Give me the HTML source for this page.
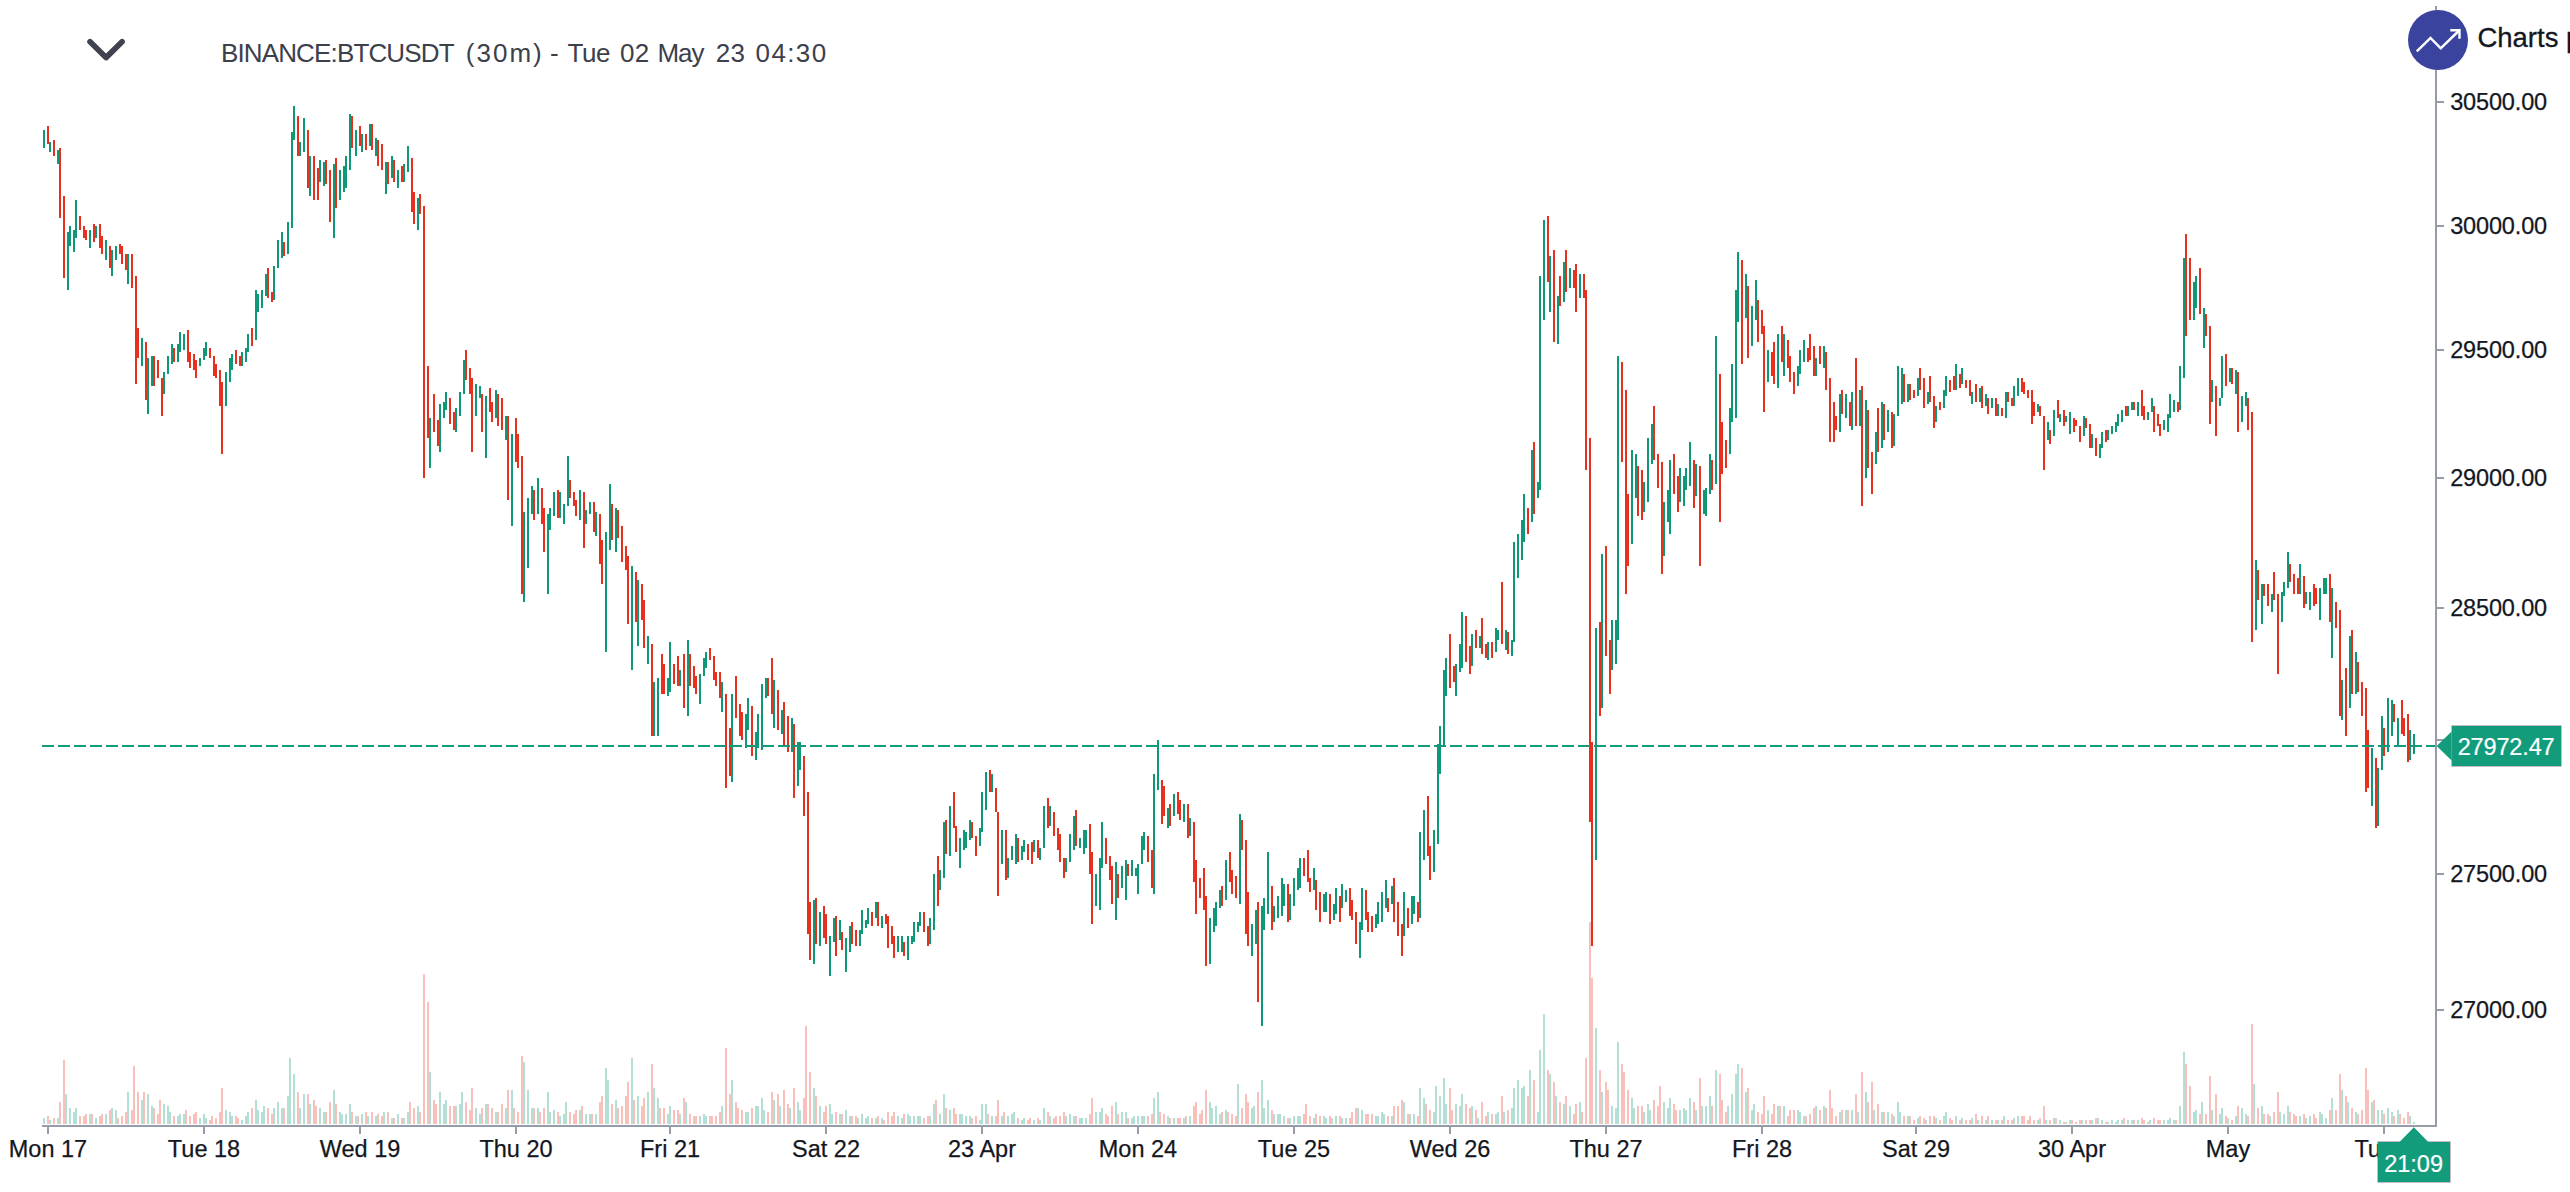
<!DOCTYPE html>
<html><head><meta charset="utf-8"><title>chart</title>
<style>
html,body{margin:0;padding:0;background:#fff;overflow:hidden;}
body{width:2570px;height:1192px;position:relative;overflow:hidden;font-family:"Liberation Sans",sans-serif;}
#chart{position:absolute;left:0;top:0;}
.tw{position:absolute;top:37.8px;font-size:26px;color:#3c404b;white-space:nowrap;}
.pl{position:absolute;left:2450.2px;font-size:23.5px;letter-spacing:-0.15px;color:#131722;white-space:nowrap;-webkit-text-stroke:0.25px #131722;}
.pt{position:absolute;left:2436px;width:8px;height:2px;background:#969da8;}
.tt{position:absolute;top:1126px;width:2px;height:8px;background:#969da8;}
.tl{position:absolute;top:1135.6px;width:200px;text-align:center;font-size:23.5px;color:#131722;white-space:nowrap;-webkit-text-stroke:0.25px #131722;}
.yaxis{position:absolute;left:2435px;top:6px;width:2px;height:1120px;background:#969da8;}
.xaxis{position:absolute;left:42px;top:1125px;width:2395px;height:2px;background:#969da8;}
.logo{position:absolute;left:2408px;top:10px;width:60px;height:60px;border-radius:50%;background:#3a439e;}
.brand{position:absolute;left:2477.4px;top:22.1px;font-size:27.5px;color:#131722;white-space:nowrap;-webkit-text-stroke:0.3px #131722;}
.plab{position:absolute;left:2451.5px;top:725.7px;width:109.9px;height:40.5px;background:#139c7c;box-shadow:0 0 0 0.6px rgba(120,108,125,0.75);}
.plabt{position:absolute;left:2457.7px;top:733.6px;color:#fff;font-size:23.5px;letter-spacing:-0.15px;white-space:nowrap;-webkit-text-stroke:0.2px #fff;}
.tlab{position:absolute;left:2377.5px;top:1141.8px;width:72.9px;height:40.5px;background:#139c7c;box-shadow:0 0 0 0.6px rgba(120,108,125,0.75);}
.tlabt{position:absolute;left:2384.2px;top:1150.7px;color:#fff;font-size:23.5px;white-space:nowrap;-webkit-text-stroke:0.2px #fff;}
</style></head><body>
<svg id="chart" width="2570" height="1192" viewBox="0 0 2570 1192" shape-rendering="crispEdges">
<path d="M43 1118h2v6h-2zM49 1120h2v4h-2zM57 1118h2v6h-2zM65 1094h2v30h-2zM69 1108h2v16h-2zM73 1112h2v12h-2zM75 1108h2v16h-2zM89 1114h2v10h-2zM95 1118h2v6h-2zM105 1114h2v10h-2zM111 1108h2v16h-2zM115 1110h2v14h-2zM127 1092h2v32h-2zM141 1100h2v24h-2zM147 1094h2v30h-2zM151 1106h2v18h-2zM163 1104h2v20h-2zM167 1106h2v18h-2zM169 1112h2v12h-2zM177 1116h2v8h-2zM179 1114h2v10h-2zM183 1114h2v10h-2zM199 1118h2v6h-2zM203 1114h2v10h-2zM205 1118h2v6h-2zM225 1110h2v14h-2zM229 1112h2v12h-2zM231 1116h2v8h-2zM241 1120h2v4h-2zM245 1116h2v8h-2zM247 1112h2v12h-2zM255 1100h2v24h-2zM257 1110h2v14h-2zM261 1112h2v12h-2zM263 1106h2v18h-2zM273 1108h2v16h-2zM277 1102h2v22h-2zM281 1108h2v16h-2zM287 1096h2v28h-2zM289 1058h2v66h-2zM293 1074h2v50h-2zM299 1108h2v16h-2zM303 1094h2v30h-2zM309 1104h2v20h-2zM319 1108h2v16h-2zM323 1112h2v12h-2zM333 1090h2v34h-2zM339 1112h2v12h-2zM341 1114h2v10h-2zM345 1114h2v10h-2zM349 1104h2v20h-2zM355 1116h2v8h-2zM361 1114h2v10h-2zM367 1116h2v8h-2zM375 1116h2v8h-2zM383 1112h2v12h-2zM391 1118h2v6h-2zM397 1114h2v10h-2zM403 1118h2v6h-2zM407 1112h2v12h-2zM417 1106h2v18h-2zM429 1072h2v52h-2zM439 1092h2v32h-2zM443 1104h2v20h-2zM445 1100h2v24h-2zM455 1106h2v18h-2zM459 1104h2v20h-2zM461 1092h2v32h-2zM475 1108h2v16h-2zM479 1114h2v10h-2zM485 1104h2v20h-2zM495 1112h2v12h-2zM505 1108h2v16h-2zM511 1090h2v34h-2zM523 1062h2v62h-2zM527 1090h2v34h-2zM531 1108h2v16h-2zM537 1108h2v16h-2zM547 1092h2v32h-2zM549 1112h2v12h-2zM553 1110h2v14h-2zM559 1116h2v8h-2zM563 1114h2v10h-2zM565 1102h2v22h-2zM579 1110h2v14h-2zM585 1114h2v10h-2zM589 1114h2v10h-2zM595 1114h2v10h-2zM605 1068h2v56h-2zM607 1080h2v44h-2zM615 1100h2v24h-2zM631 1058h2v66h-2zM637 1096h2v28h-2zM647 1092h2v32h-2zM653 1088h2v36h-2zM657 1098h2v26h-2zM667 1114h2v10h-2zM669 1106h2v18h-2zM679 1114h2v10h-2zM685 1102h2v22h-2zM699 1116h2v8h-2zM703 1114h2v10h-2zM705 1116h2v8h-2zM721 1106h2v18h-2zM731 1080h2v44h-2zM745 1112h2v12h-2zM747 1112h2v12h-2zM755 1106h2v18h-2zM757 1106h2v18h-2zM761 1098h2v26h-2zM763 1110h2v14h-2zM773 1100h2v24h-2zM779 1106h2v18h-2zM789 1108h2v16h-2zM797 1102h2v22h-2zM799 1110h2v14h-2zM813 1088h2v36h-2zM819 1106h2v18h-2zM829 1104h2v20h-2zM831 1114h2v10h-2zM839 1114h2v10h-2zM845 1110h2v14h-2zM849 1116h2v8h-2zM857 1118h2v6h-2zM861 1114h2v10h-2zM865 1118h2v6h-2zM867 1116h2v8h-2zM875 1118h2v6h-2zM881 1118h2v6h-2zM897 1116h2v8h-2zM901 1118h2v6h-2zM907 1114h2v10h-2zM909 1116h2v8h-2zM913 1116h2v8h-2zM917 1116h2v8h-2zM919 1116h2v8h-2zM929 1116h2v8h-2zM933 1104h2v20h-2zM939 1114h2v10h-2zM943 1094h2v30h-2zM949 1110h2v14h-2zM959 1114h2v10h-2zM961 1114h2v10h-2zM965 1116h2v8h-2zM969 1116h2v8h-2zM979 1120h2v4h-2zM981 1104h2v20h-2zM985 1104h2v20h-2zM991 1116h2v8h-2zM1001 1116h2v8h-2zM1007 1116h2v8h-2zM1011 1114h2v10h-2zM1013 1112h2v12h-2zM1021 1120h2v4h-2zM1023 1118h2v6h-2zM1033 1120h2v4h-2zM1039 1120h2v4h-2zM1043 1108h2v16h-2zM1049 1116h2v8h-2zM1065 1116h2v8h-2zM1069 1114h2v10h-2zM1073 1116h2v8h-2zM1079 1118h2v6h-2zM1081 1118h2v6h-2zM1085 1118h2v6h-2zM1095 1112h2v12h-2zM1099 1112h2v12h-2zM1101 1108h2v16h-2zM1115 1102h2v22h-2zM1121 1112h2v12h-2zM1125 1112h2v12h-2zM1131 1118h2v6h-2zM1133 1116h2v8h-2zM1137 1116h2v8h-2zM1141 1116h2v8h-2zM1143 1116h2v8h-2zM1153 1098h2v26h-2zM1157 1092h2v32h-2zM1167 1116h2v8h-2zM1173 1118h2v6h-2zM1183 1118h2v6h-2zM1189 1116h2v8h-2zM1209 1102h2v22h-2zM1211 1108h2v16h-2zM1215 1106h2v18h-2zM1219 1114h2v10h-2zM1225 1110h2v14h-2zM1237 1084h2v40h-2zM1251 1108h2v16h-2zM1253 1106h2v18h-2zM1261 1080h2v44h-2zM1263 1108h2v16h-2zM1267 1100h2v24h-2zM1273 1114h2v10h-2zM1277 1114h2v10h-2zM1279 1114h2v10h-2zM1283 1116h2v8h-2zM1289 1118h2v6h-2zM1293 1116h2v8h-2zM1297 1116h2v8h-2zM1299 1116h2v8h-2zM1313 1118h2v6h-2zM1323 1116h2v8h-2zM1325 1118h2v6h-2zM1331 1118h2v6h-2zM1335 1116h2v8h-2zM1341 1118h2v6h-2zM1345 1118h2v6h-2zM1357 1108h2v16h-2zM1361 1110h2v14h-2zM1375 1116h2v8h-2zM1377 1116h2v8h-2zM1381 1112h2v12h-2zM1383 1114h2v10h-2zM1391 1116h2v8h-2zM1403 1102h2v22h-2zM1409 1114h2v10h-2zM1413 1114h2v10h-2zM1419 1088h2v36h-2zM1423 1098h2v26h-2zM1433 1112h2v12h-2zM1435 1086h2v38h-2zM1439 1096h2v28h-2zM1443 1078h2v46h-2zM1445 1104h2v20h-2zM1455 1104h2v20h-2zM1459 1106h2v18h-2zM1461 1094h2v30h-2zM1471 1106h2v18h-2zM1477 1118h2v6h-2zM1487 1112h2v12h-2zM1495 1114h2v10h-2zM1497 1112h2v12h-2zM1503 1112h2v12h-2zM1511 1108h2v16h-2zM1513 1088h2v36h-2zM1517 1080h2v44h-2zM1521 1088h2v36h-2zM1523 1086h2v38h-2zM1529 1070h2v54h-2zM1537 1112h2v12h-2zM1539 1050h2v74h-2zM1543 1014h2v110h-2zM1549 1074h2v50h-2zM1555 1096h2v28h-2zM1563 1104h2v20h-2zM1569 1106h2v18h-2zM1579 1102h2v22h-2zM1595 1028h2v96h-2zM1601 1092h2v32h-2zM1611 1106h2v18h-2zM1615 1108h2v16h-2zM1617 1042h2v82h-2zM1631 1098h2v26h-2zM1633 1108h2v16h-2zM1643 1112h2v12h-2zM1647 1104h2v20h-2zM1649 1110h2v14h-2zM1663 1102h2v22h-2zM1667 1108h2v16h-2zM1669 1098h2v26h-2zM1679 1110h2v14h-2zM1683 1108h2v16h-2zM1685 1110h2v14h-2zM1689 1098h2v26h-2zM1695 1110h2v14h-2zM1701 1106h2v18h-2zM1705 1106h2v18h-2zM1709 1096h2v28h-2zM1715 1070h2v54h-2zM1727 1106h2v18h-2zM1731 1094h2v30h-2zM1735 1074h2v50h-2zM1737 1064h2v60h-2zM1745 1092h2v32h-2zM1751 1110h2v14h-2zM1753 1104h2v20h-2zM1767 1110h2v14h-2zM1777 1106h2v18h-2zM1783 1106h2v18h-2zM1797 1110h2v14h-2zM1799 1112h2v12h-2zM1803 1116h2v8h-2zM1815 1106h2v18h-2zM1823 1106h2v18h-2zM1839 1112h2v12h-2zM1845 1110h2v14h-2zM1851 1110h2v14h-2zM1857 1112h2v12h-2zM1865 1092h2v32h-2zM1873 1110h2v14h-2zM1881 1112h2v12h-2zM1887 1112h2v12h-2zM1893 1116h2v8h-2zM1897 1102h2v22h-2zM1899 1112h2v12h-2zM1907 1116h2v8h-2zM1917 1118h2v6h-2zM1925 1120h2v4h-2zM1935 1118h2v6h-2zM1943 1116h2v8h-2zM1945 1112h2v12h-2zM1955 1116h2v8h-2zM1961 1118h2v6h-2zM1971 1118h2v6h-2zM1977 1120h2v4h-2zM1985 1120h2v4h-2zM1991 1120h2v4h-2zM1997 1120h2v4h-2zM2003 1116h2v8h-2zM2013 1118h2v6h-2zM2017 1116h2v8h-2zM2037 1120h2v4h-2zM2045 1120h2v4h-2zM2053 1118h2v6h-2zM2059 1120h2v4h-2zM2065 1122h2v2h-2zM2069 1120h2v4h-2zM2081 1120h2v4h-2zM2091 1120h2v4h-2zM2097 1118h2v6h-2zM2101 1120h2v4h-2zM2107 1122h2v2h-2zM2111 1120h2v4h-2zM2115 1122h2v2h-2zM2117 1120h2v4h-2zM2121 1120h2v4h-2zM2127 1120h2v4h-2zM2131 1120h2v4h-2zM2137 1120h2v4h-2zM2147 1122h2v2h-2zM2149 1120h2v4h-2zM2163 1120h2v4h-2zM2167 1120h2v4h-2zM2169 1118h2v6h-2zM2173 1120h2v4h-2zM2179 1106h2v18h-2zM2183 1052h2v72h-2zM2193 1112h2v12h-2zM2195 1110h2v14h-2zM2201 1102h2v22h-2zM2211 1110h2v14h-2zM2219 1114h2v10h-2zM2221 1108h2v16h-2zM2227 1118h2v6h-2zM2235 1116h2v8h-2zM2241 1108h2v16h-2zM2245 1114h2v10h-2zM2253 1084h2v40h-2zM2261 1106h2v18h-2zM2269 1116h2v8h-2zM2279 1112h2v12h-2zM2283 1114h2v10h-2zM2287 1106h2v18h-2zM2299 1116h2v8h-2zM2305 1118h2v6h-2zM2309 1116h2v8h-2zM2319 1112h2v12h-2zM2321 1114h2v10h-2zM2325 1118h2v6h-2zM2331 1098h2v26h-2zM2341 1090h2v34h-2zM2347 1102h2v22h-2zM2355 1112h2v12h-2zM2371 1102h2v22h-2zM2377 1110h2v14h-2zM2381 1110h2v14h-2zM2387 1108h2v16h-2zM2391 1112h2v12h-2zM2397 1110h2v14h-2zM2409 1116h2v8h-2zM2413 1122h2v2h-2z" fill="#b3dfd4"/>
<path d="M47 1116h2v8h-2zM53 1118h2v6h-2zM59 1102h2v22h-2zM63 1060h2v64h-2zM79 1116h2v8h-2zM83 1116h2v8h-2zM85 1114h2v10h-2zM91 1114h2v10h-2zM99 1116h2v8h-2zM101 1114h2v10h-2zM109 1110h2v14h-2zM117 1118h2v6h-2zM121 1116h2v8h-2zM125 1112h2v12h-2zM131 1110h2v14h-2zM133 1066h2v58h-2zM137 1092h2v32h-2zM143 1092h2v32h-2zM153 1108h2v16h-2zM157 1114h2v10h-2zM159 1100h2v24h-2zM173 1116h2v8h-2zM185 1110h2v14h-2zM189 1116h2v8h-2zM193 1114h2v10h-2zM195 1112h2v12h-2zM209 1120h2v4h-2zM211 1116h2v8h-2zM215 1118h2v6h-2zM219 1112h2v12h-2zM221 1088h2v36h-2zM235 1116h2v8h-2zM237 1118h2v6h-2zM251 1108h2v16h-2zM267 1108h2v16h-2zM271 1114h2v10h-2zM283 1108h2v16h-2zM297 1092h2v32h-2zM307 1094h2v30h-2zM313 1100h2v24h-2zM315 1106h2v18h-2zM325 1112h2v12h-2zM329 1102h2v22h-2zM335 1104h2v20h-2zM351 1112h2v12h-2zM357 1116h2v8h-2zM365 1112h2v12h-2zM371 1112h2v12h-2zM377 1114h2v10h-2zM381 1116h2v8h-2zM387 1112h2v12h-2zM393 1118h2v6h-2zM401 1118h2v6h-2zM409 1102h2v22h-2zM413 1108h2v16h-2zM419 1112h2v12h-2zM423 974h2v150h-2zM427 1002h2v122h-2zM433 1100h2v24h-2zM435 1104h2v20h-2zM449 1106h2v18h-2zM453 1106h2v18h-2zM465 1102h2v22h-2zM469 1110h2v14h-2zM471 1088h2v36h-2zM481 1108h2v16h-2zM487 1104h2v20h-2zM491 1108h2v16h-2zM497 1112h2v12h-2zM501 1104h2v20h-2zM507 1090h2v34h-2zM513 1108h2v16h-2zM517 1112h2v12h-2zM521 1056h2v68h-2zM533 1108h2v16h-2zM539 1112h2v12h-2zM543 1108h2v16h-2zM557 1112h2v12h-2zM569 1112h2v12h-2zM573 1114h2v10h-2zM575 1110h2v14h-2zM581 1106h2v18h-2zM591 1114h2v10h-2zM599 1102h2v22h-2zM601 1096h2v28h-2zM611 1104h2v20h-2zM617 1108h2v16h-2zM621 1106h2v18h-2zM625 1096h2v28h-2zM627 1082h2v42h-2zM633 1100h2v24h-2zM641 1106h2v18h-2zM643 1098h2v26h-2zM651 1064h2v60h-2zM659 1108h2v16h-2zM663 1108h2v16h-2zM673 1110h2v14h-2zM677 1110h2v14h-2zM683 1098h2v26h-2zM689 1114h2v10h-2zM693 1116h2v8h-2zM695 1116h2v8h-2zM709 1116h2v8h-2zM711 1116h2v8h-2zM715 1116h2v8h-2zM719 1112h2v12h-2zM725 1048h2v76h-2zM729 1094h2v30h-2zM735 1102h2v22h-2zM737 1108h2v16h-2zM741 1110h2v14h-2zM751 1108h2v16h-2zM767 1112h2v12h-2zM771 1092h2v32h-2zM777 1094h2v30h-2zM783 1090h2v34h-2zM787 1104h2v20h-2zM793 1088h2v36h-2zM803 1098h2v26h-2zM805 1026h2v98h-2zM809 1072h2v52h-2zM815 1096h2v28h-2zM823 1112h2v12h-2zM825 1106h2v18h-2zM835 1112h2v12h-2zM841 1114h2v10h-2zM851 1116h2v8h-2zM855 1116h2v8h-2zM871 1118h2v6h-2zM877 1116h2v8h-2zM883 1120h2v4h-2zM887 1112h2v12h-2zM891 1116h2v8h-2zM893 1112h2v12h-2zM903 1114h2v10h-2zM923 1118h2v6h-2zM927 1116h2v8h-2zM935 1100h2v24h-2zM945 1108h2v16h-2zM953 1108h2v16h-2zM955 1114h2v10h-2zM971 1118h2v6h-2zM975 1116h2v8h-2zM987 1114h2v10h-2zM995 1116h2v8h-2zM997 1100h2v24h-2zM1003 1112h2v12h-2zM1017 1118h2v6h-2zM1027 1120h2v4h-2zM1029 1118h2v6h-2zM1037 1118h2v6h-2zM1047 1112h2v12h-2zM1053 1118h2v6h-2zM1055 1116h2v8h-2zM1059 1116h2v8h-2zM1063 1112h2v12h-2zM1075 1116h2v8h-2zM1089 1114h2v10h-2zM1091 1098h2v26h-2zM1105 1114h2v10h-2zM1107 1116h2v8h-2zM1111 1106h2v18h-2zM1117 1114h2v10h-2zM1127 1118h2v6h-2zM1147 1116h2v8h-2zM1151 1114h2v10h-2zM1159 1112h2v12h-2zM1163 1114h2v10h-2zM1169 1118h2v6h-2zM1177 1118h2v6h-2zM1179 1118h2v6h-2zM1185 1116h2v8h-2zM1193 1106h2v18h-2zM1195 1102h2v22h-2zM1199 1114h2v10h-2zM1201 1110h2v14h-2zM1205 1090h2v34h-2zM1221 1112h2v12h-2zM1227 1112h2v12h-2zM1231 1114h2v10h-2zM1235 1116h2v8h-2zM1241 1108h2v16h-2zM1245 1094h2v30h-2zM1247 1102h2v22h-2zM1257 1092h2v32h-2zM1271 1110h2v14h-2zM1287 1118h2v6h-2zM1303 1114h2v10h-2zM1305 1104h2v20h-2zM1309 1116h2v8h-2zM1315 1114h2v10h-2zM1319 1116h2v8h-2zM1329 1116h2v8h-2zM1339 1116h2v8h-2zM1349 1118h2v6h-2zM1351 1112h2v12h-2zM1355 1108h2v16h-2zM1365 1114h2v10h-2zM1367 1114h2v10h-2zM1371 1114h2v10h-2zM1387 1116h2v8h-2zM1393 1106h2v18h-2zM1397 1106h2v18h-2zM1401 1100h2v24h-2zM1407 1114h2v10h-2zM1417 1116h2v8h-2zM1425 1104h2v20h-2zM1429 1110h2v14h-2zM1449 1088h2v36h-2zM1451 1110h2v14h-2zM1465 1104h2v20h-2zM1469 1108h2v16h-2zM1475 1110h2v14h-2zM1481 1102h2v22h-2zM1485 1116h2v8h-2zM1491 1114h2v10h-2zM1501 1096h2v28h-2zM1507 1110h2v14h-2zM1527 1096h2v28h-2zM1533 1080h2v44h-2zM1547 1070h2v54h-2zM1553 1082h2v42h-2zM1559 1102h2v22h-2zM1565 1096h2v28h-2zM1573 1114h2v10h-2zM1575 1104h2v20h-2zM1581 1112h2v12h-2zM1585 1058h2v66h-2zM1589 922h2v202h-2zM1591 978h2v146h-2zM1599 1070h2v54h-2zM1605 1082h2v42h-2zM1607 1090h2v34h-2zM1621 1064h2v60h-2zM1623 1072h2v52h-2zM1627 1090h2v34h-2zM1637 1106h2v18h-2zM1641 1106h2v18h-2zM1653 1100h2v24h-2zM1657 1106h2v18h-2zM1659 1086h2v38h-2zM1673 1104h2v20h-2zM1675 1110h2v14h-2zM1693 1102h2v22h-2zM1699 1078h2v46h-2zM1711 1106h2v18h-2zM1719 1074h2v50h-2zM1721 1100h2v24h-2zM1725 1112h2v12h-2zM1741 1068h2v56h-2zM1747 1088h2v36h-2zM1757 1112h2v12h-2zM1761 1114h2v10h-2zM1763 1096h2v28h-2zM1771 1114h2v10h-2zM1773 1104h2v20h-2zM1779 1106h2v18h-2zM1787 1116h2v8h-2zM1789 1110h2v14h-2zM1793 1110h2v14h-2zM1805 1116h2v8h-2zM1809 1114h2v10h-2zM1813 1108h2v16h-2zM1819 1110h2v14h-2zM1825 1108h2v16h-2zM1829 1090h2v34h-2zM1831 1108h2v16h-2zM1835 1116h2v8h-2zM1841 1110h2v14h-2zM1847 1110h2v14h-2zM1855 1094h2v30h-2zM1861 1072h2v52h-2zM1867 1102h2v22h-2zM1871 1082h2v42h-2zM1877 1104h2v20h-2zM1883 1112h2v12h-2zM1891 1114h2v10h-2zM1903 1116h2v8h-2zM1909 1116h2v8h-2zM1913 1120h2v4h-2zM1919 1116h2v8h-2zM1923 1118h2v6h-2zM1929 1116h2v8h-2zM1933 1116h2v8h-2zM1939 1120h2v4h-2zM1949 1118h2v6h-2zM1951 1120h2v4h-2zM1959 1120h2v4h-2zM1965 1120h2v4h-2zM1969 1120h2v4h-2zM1975 1114h2v10h-2zM1981 1116h2v8h-2zM1987 1116h2v8h-2zM1995 1120h2v4h-2zM2001 1120h2v4h-2zM2007 1120h2v4h-2zM2011 1120h2v4h-2zM2021 1116h2v8h-2zM2023 1116h2v8h-2zM2027 1120h2v4h-2zM2029 1116h2v8h-2zM2033 1120h2v4h-2zM2039 1118h2v6h-2zM2043 1106h2v18h-2zM2049 1120h2v4h-2zM2055 1118h2v6h-2zM2063 1122h2v2h-2zM2071 1120h2v4h-2zM2075 1122h2v2h-2zM2079 1120h2v4h-2zM2085 1120h2v4h-2zM2089 1120h2v4h-2zM2095 1118h2v6h-2zM2105 1122h2v2h-2zM2123 1118h2v6h-2zM2133 1120h2v4h-2zM2141 1118h2v6h-2zM2143 1120h2v4h-2zM2153 1118h2v6h-2zM2157 1120h2v4h-2zM2159 1120h2v4h-2zM2175 1120h2v4h-2zM2185 1064h2v60h-2zM2189 1086h2v38h-2zM2199 1114h2v10h-2zM2205 1114h2v10h-2zM2209 1076h2v48h-2zM2215 1094h2v30h-2zM2225 1116h2v8h-2zM2231 1120h2v4h-2zM2237 1106h2v18h-2zM2247 1116h2v8h-2zM2251 1024h2v100h-2zM2257 1108h2v16h-2zM2263 1114h2v10h-2zM2267 1114h2v10h-2zM2273 1112h2v12h-2zM2277 1092h2v32h-2zM2289 1112h2v12h-2zM2293 1114h2v10h-2zM2295 1116h2v8h-2zM2303 1114h2v10h-2zM2313 1114h2v10h-2zM2315 1118h2v6h-2zM2329 1110h2v14h-2zM2335 1110h2v14h-2zM2339 1074h2v50h-2zM2345 1096h2v28h-2zM2351 1108h2v16h-2zM2357 1114h2v10h-2zM2361 1110h2v14h-2zM2365 1068h2v56h-2zM2367 1090h2v34h-2zM2373 1100h2v24h-2zM2383 1114h2v10h-2zM2393 1116h2v8h-2zM2399 1114h2v10h-2zM2403 1118h2v6h-2zM2407 1112h2v12h-2z" fill="#f8bfbb"/>
<path d="M43 130h2v18h-2zM49 142h2v10h-2zM57 150h2v14h-2zM67 232h2v58h-2zM69 226h2v20h-2zM73 230h2v22h-2zM75 200h2v38h-2zM89 230h2v18h-2zM95 226h2v12h-2zM105 240h2v20h-2zM111 250h2v26h-2zM115 246h2v14h-2zM127 254h2v30h-2zM141 338h2v28h-2zM147 358h2v56h-2zM151 356h2v30h-2zM163 372h2v22h-2zM167 356h2v18h-2zM171 344h2v20h-2zM177 344h2v18h-2zM179 332h2v20h-2zM183 334h2v16h-2zM199 358h2v8h-2zM203 348h2v12h-2zM205 342h2v14h-2zM225 372h2v34h-2zM229 358h2v24h-2zM231 354h2v16h-2zM241 352h2v14h-2zM245 348h2v14h-2zM247 334h2v18h-2zM255 290h2v50h-2zM257 294h2v18h-2zM261 290h2v18h-2zM265 274h2v22h-2zM273 266h2v34h-2zM277 240h2v28h-2zM281 232h2v26h-2zM287 222h2v32h-2zM291 132h2v96h-2zM293 106h2v34h-2zM299 142h2v14h-2zM303 118h2v34h-2zM309 156h2v40h-2zM319 160h2v22h-2zM323 162h2v24h-2zM333 164h2v74h-2zM339 170h2v30h-2zM343 166h2v26h-2zM345 156h2v32h-2zM349 114h2v56h-2zM355 130h2v26h-2zM361 134h2v18h-2zM369 124h2v22h-2zM375 138h2v18h-2zM385 162h2v32h-2zM391 156h2v22h-2zM397 170h2v18h-2zM403 164h2v18h-2zM407 146h2v26h-2zM417 198h2v32h-2zM429 418h2v50h-2zM439 404h2v48h-2zM443 402h2v16h-2zM445 392h2v18h-2zM455 408h2v24h-2zM459 392h2v24h-2zM463 360h2v34h-2zM475 384h2v32h-2zM479 386h2v12h-2zM485 396h2v62h-2zM495 390h2v28h-2zM505 416h2v24h-2zM511 434h2v92h-2zM523 512h2v90h-2zM527 498h2v70h-2zM531 486h2v28h-2zM537 478h2v36h-2zM547 514h2v80h-2zM549 508h2v22h-2zM553 492h2v24h-2zM559 492h2v26h-2zM563 504h2v20h-2zM567 456h2v50h-2zM579 490h2v30h-2zM585 510h2v14h-2zM589 502h2v12h-2zM595 512h2v24h-2zM605 532h2v120h-2zM609 484h2v66h-2zM615 508h2v44h-2zM631 566h2v104h-2zM637 580h2v66h-2zM647 636h2v28h-2zM653 682h2v54h-2zM657 678h2v58h-2zM667 678h2v18h-2zM669 642h2v50h-2zM679 670h2v16h-2zM687 640h2v76h-2zM699 674h2v30h-2zM703 658h2v18h-2zM705 652h2v16h-2zM721 682h2v30h-2zM731 694h2v88h-2zM745 714h2v34h-2zM747 698h2v32h-2zM755 732h2v28h-2zM757 714h2v34h-2zM761 684h2v66h-2zM765 678h2v20h-2zM773 680h2v48h-2zM781 710h2v24h-2zM791 718h2v34h-2zM797 742h2v44h-2zM799 742h2v28h-2zM813 900h2v64h-2zM819 912h2v34h-2zM829 936h2v40h-2zM833 918h2v24h-2zM839 920h2v20h-2zM845 938h2v34h-2zM849 926h2v26h-2zM859 930h2v16h-2zM861 910h2v24h-2zM865 920h2v8h-2zM867 908h2v16h-2zM875 902h2v16h-2zM881 916h2v12h-2zM897 936h2v16h-2zM901 936h2v16h-2zM907 936h2v24h-2zM911 936h2v8h-2zM913 922h2v20h-2zM917 922h2v10h-2zM919 912h2v14h-2zM929 918h2v26h-2zM933 874h2v56h-2zM939 870h2v20h-2zM943 822h2v56h-2zM949 806h2v50h-2zM959 838h2v30h-2zM963 830h2v20h-2zM965 832h2v16h-2zM969 820h2v20h-2zM979 828h2v18h-2zM981 792h2v40h-2zM985 772h2v38h-2zM991 774h2v18h-2zM1001 830h2v34h-2zM1007 858h2v20h-2zM1011 846h2v14h-2zM1015 834h2v30h-2zM1021 846h2v14h-2zM1023 840h2v12h-2zM1033 840h2v12h-2zM1039 848h2v12h-2zM1043 806h2v42h-2zM1049 806h2v20h-2zM1065 858h2v14h-2zM1069 834h2v28h-2zM1073 816h2v34h-2zM1079 838h2v10h-2zM1083 830h2v24h-2zM1085 830h2v18h-2zM1095 874h2v32h-2zM1099 858h2v52h-2zM1101 822h2v46h-2zM1115 862h2v58h-2zM1121 866h2v22h-2zM1125 860h2v40h-2zM1131 860h2v16h-2zM1135 868h2v8h-2zM1137 864h2v30h-2zM1141 836h2v28h-2zM1143 832h2v18h-2zM1153 774h2v120h-2zM1157 740h2v50h-2zM1167 808h2v20h-2zM1173 794h2v22h-2zM1183 804h2v18h-2zM1189 818h2v18h-2zM1209 918h2v46h-2zM1213 908h2v24h-2zM1215 902h2v24h-2zM1219 890h2v18h-2zM1225 860h2v40h-2zM1239 814h2v90h-2zM1251 924h2v32h-2zM1255 910h2v34h-2zM1261 906h2v120h-2zM1263 898h2v32h-2zM1267 852h2v62h-2zM1273 906h2v16h-2zM1277 896h2v22h-2zM1281 878h2v38h-2zM1283 884h2v22h-2zM1289 894h2v26h-2zM1293 878h2v28h-2zM1297 868h2v22h-2zM1299 858h2v30h-2zM1313 868h2v22h-2zM1323 894h2v18h-2zM1325 892h2v20h-2zM1333 904h2v16h-2zM1335 888h2v26h-2zM1341 884h2v24h-2zM1345 890h2v12h-2zM1359 922h2v36h-2zM1361 888h2v42h-2zM1375 914h2v14h-2zM1377 902h2v22h-2zM1381 892h2v30h-2zM1385 880h2v28h-2zM1391 886h2v18h-2zM1403 892h2v44h-2zM1411 896h2v28h-2zM1413 896h2v18h-2zM1419 832h2v86h-2zM1423 810h2v50h-2zM1433 830h2v42h-2zM1437 744h2v100h-2zM1439 726h2v48h-2zM1443 670h2v76h-2zM1445 658h2v38h-2zM1455 664h2v32h-2zM1459 644h2v28h-2zM1461 612h2v56h-2zM1471 634h2v32h-2zM1479 636h2v12h-2zM1487 642h2v18h-2zM1495 628h2v24h-2zM1497 630h2v10h-2zM1505 630h2v20h-2zM1511 640h2v16h-2zM1513 542h2v100h-2zM1517 534h2v44h-2zM1521 520h2v40h-2zM1523 494h2v48h-2zM1531 450h2v72h-2zM1537 482h2v16h-2zM1539 276h2v214h-2zM1543 220h2v100h-2zM1549 256h2v56h-2zM1557 296h2v48h-2zM1563 262h2v40h-2zM1569 268h2v20h-2zM1579 274h2v24h-2zM1595 628h2v232h-2zM1601 554h2v154h-2zM1611 620h2v50h-2zM1615 620h2v44h-2zM1617 356h2v284h-2zM1631 450h2v94h-2zM1635 454h2v44h-2zM1643 482h2v30h-2zM1647 438h2v64h-2zM1651 424h2v40h-2zM1663 502h2v54h-2zM1667 490h2v32h-2zM1669 460h2v74h-2zM1679 468h2v34h-2zM1683 476h2v30h-2zM1685 468h2v22h-2zM1689 442h2v44h-2zM1695 464h2v32h-2zM1703 490h2v24h-2zM1705 488h2v28h-2zM1709 454h2v40h-2zM1715 336h2v148h-2zM1729 408h2v46h-2zM1731 364h2v58h-2zM1735 290h2v128h-2zM1737 252h2v70h-2zM1745 274h2v44h-2zM1751 306h2v40h-2zM1755 280h2v40h-2zM1767 350h2v32h-2zM1777 334h2v54h-2zM1783 334h2v42h-2zM1797 366h2v20h-2zM1799 350h2v24h-2zM1803 340h2v22h-2zM1815 358h2v18h-2zM1823 346h2v22h-2zM1839 394h2v38h-2zM1845 394h2v24h-2zM1851 392h2v38h-2zM1859 390h2v36h-2zM1865 400h2v78h-2zM1875 432h2v32h-2zM1881 402h2v46h-2zM1887 410h2v22h-2zM1893 414h2v32h-2zM1897 366h2v50h-2zM1901 368h2v36h-2zM1907 384h2v18h-2zM1917 378h2v18h-2zM1927 392h2v12h-2zM1935 406h2v16h-2zM1943 390h2v18h-2zM1945 376h2v20h-2zM1955 364h2v26h-2zM1961 368h2v16h-2zM1971 392h2v12h-2zM1979 388h2v14h-2zM1985 394h2v12h-2zM1991 398h2v10h-2zM1997 404h2v12h-2zM2005 392h2v26h-2zM2013 386h2v20h-2zM2017 378h2v18h-2zM2037 404h2v8h-2zM2047 422h2v18h-2zM2053 410h2v26h-2zM2059 414h2v8h-2zM2065 416h2v6h-2zM2069 412h2v22h-2zM2083 416h2v20h-2zM2091 434h2v14h-2zM2099 444h2v14h-2zM2101 432h2v16h-2zM2107 430h2v10h-2zM2111 426h2v8h-2zM2115 422h2v10h-2zM2117 414h2v12h-2zM2121 410h2v12h-2zM2127 406h2v10h-2zM2131 402h2v8h-2zM2137 402h2v14h-2zM2147 412h2v8h-2zM2151 398h2v14h-2zM2163 420h2v10h-2zM2167 414h2v18h-2zM2169 394h2v24h-2zM2173 400h2v12h-2zM2179 366h2v44h-2zM2183 258h2v120h-2zM2193 282h2v38h-2zM2195 276h2v32h-2zM2203 308h2v40h-2zM2211 380h2v22h-2zM2219 398h2v8h-2zM2221 356h2v42h-2zM2229 368h2v14h-2zM2235 370h2v24h-2zM2241 396h2v26h-2zM2245 392h2v14h-2zM2255 560h2v70h-2zM2261 584h2v40h-2zM2271 594h2v18h-2zM2281 592h2v30h-2zM2283 582h2v14h-2zM2287 552h2v36h-2zM2299 564h2v30h-2zM2305 592h2v12h-2zM2309 592h2v18h-2zM2319 588h2v32h-2zM2323 578h2v16h-2zM2325 578h2v16h-2zM2331 588h2v70h-2zM2341 680h2v40h-2zM2349 636h2v72h-2zM2355 652h2v42h-2zM2371 748h2v58h-2zM2377 768h2v58h-2zM2381 716h2v54h-2zM2387 698h2v54h-2zM2391 700h2v36h-2zM2397 718h2v28h-2zM2409 730h2v30h-2zM2413 734h2v20h-2z" fill="#0e9878"/>
<path d="M47 126h2v18h-2zM53 140h2v16h-2zM59 148h2v70h-2zM63 196h2v82h-2zM79 216h2v14h-2zM83 226h2v12h-2zM85 230h2v10h-2zM93 224h2v18h-2zM99 224h2v24h-2zM101 236h2v18h-2zM109 246h2v22h-2zM119 244h2v10h-2zM121 246h2v18h-2zM125 254h2v16h-2zM131 254h2v34h-2zM135 276h2v108h-2zM137 328h2v30h-2zM145 342h2v58h-2zM153 356h2v30h-2zM157 360h2v18h-2zM161 378h2v38h-2zM173 348h2v14h-2zM187 330h2v32h-2zM189 352h2v16h-2zM193 354h2v16h-2zM195 360h2v18h-2zM209 348h2v10h-2zM213 356h2v20h-2zM215 364h2v14h-2zM219 370h2v36h-2zM221 382h2v72h-2zM235 350h2v14h-2zM239 356h2v10h-2zM251 328h2v18h-2zM267 268h2v30h-2zM271 292h2v10h-2zM283 242h2v14h-2zM297 116h2v40h-2zM307 130h2v58h-2zM313 156h2v44h-2zM317 168h2v32h-2zM325 160h2v24h-2zM329 170h2v52h-2zM335 158h2v50h-2zM351 116h2v32h-2zM359 126h2v20h-2zM365 134h2v16h-2zM371 124h2v26h-2zM377 140h2v26h-2zM381 144h2v26h-2zM387 162h2v22h-2zM393 160h2v22h-2zM401 166h2v16h-2zM411 158h2v54h-2zM413 192h2v32h-2zM419 194h2v20h-2zM423 206h2v272h-2zM427 366h2v72h-2zM433 394h2v38h-2zM437 420h2v26h-2zM449 398h2v26h-2zM453 412h2v18h-2zM465 350h2v30h-2zM469 368h2v26h-2zM471 378h2v74h-2zM481 394h2v38h-2zM489 388h2v24h-2zM491 402h2v20h-2zM497 394h2v32h-2zM501 398h2v32h-2zM507 416h2v84h-2zM515 418h2v44h-2zM517 434h2v34h-2zM521 456h2v138h-2zM533 490h2v30h-2zM541 488h2v36h-2zM543 508h2v44h-2zM557 490h2v28h-2zM569 480h2v18h-2zM573 492h2v14h-2zM575 500h2v16h-2zM583 492h2v56h-2zM593 502h2v30h-2zM599 514h2v50h-2zM601 540h2v44h-2zM611 504h2v36h-2zM617 510h2v28h-2zM621 526h2v36h-2zM625 546h2v24h-2zM627 556h2v68h-2zM635 572h2v50h-2zM641 584h2v36h-2zM643 600h2v48h-2zM651 644h2v92h-2zM661 654h2v40h-2zM663 664h2v30h-2zM673 664h2v20h-2zM677 656h2v30h-2zM683 654h2v54h-2zM689 654h2v32h-2zM693 666h2v22h-2zM695 676h2v18h-2zM709 648h2v12h-2zM713 656h2v24h-2zM715 672h2v14h-2zM719 672h2v26h-2zM725 694h2v94h-2zM729 728h2v48h-2zM735 676h2v42h-2zM739 704h2v32h-2zM741 712h2v28h-2zM751 706h2v50h-2zM767 678h2v18h-2zM771 658h2v56h-2zM777 690h2v40h-2zM783 702h2v44h-2zM787 716h2v36h-2zM793 724h2v74h-2zM803 756h2v60h-2zM807 792h2v142h-2zM809 902h2v58h-2zM815 898h2v46h-2zM823 906h2v32h-2zM825 914h2v30h-2zM835 916h2v40h-2zM841 932h2v18h-2zM851 922h2v22h-2zM855 930h2v16h-2zM871 912h2v14h-2zM877 902h2v24h-2zM885 914h2v10h-2zM887 916h2v32h-2zM891 926h2v18h-2zM893 936h2v22h-2zM903 942h2v14h-2zM923 912h2v20h-2zM927 926h2v20h-2zM937 856h2v50h-2zM945 820h2v34h-2zM953 792h2v36h-2zM955 826h2v26h-2zM971 822h2v16h-2zM975 836h2v20h-2zM989 770h2v22h-2zM995 788h2v24h-2zM997 812h2v84h-2zM1005 830h2v50h-2zM1017 838h2v24h-2zM1027 844h2v16h-2zM1031 842h2v22h-2zM1037 840h2v18h-2zM1047 798h2v30h-2zM1053 812h2v24h-2zM1057 828h2v22h-2zM1059 834h2v28h-2zM1063 858h2v20h-2zM1075 810h2v36h-2zM1089 824h2v50h-2zM1091 852h2v72h-2zM1105 838h2v26h-2zM1109 856h2v24h-2zM1111 866h2v38h-2zM1117 874h2v24h-2zM1127 864h2v12h-2zM1147 836h2v26h-2zM1151 850h2v38h-2zM1161 780h2v44h-2zM1163 786h2v30h-2zM1169 804h2v22h-2zM1177 792h2v22h-2zM1179 800h2v20h-2zM1187 804h2v34h-2zM1193 822h2v60h-2zM1195 860h2v54h-2zM1199 878h2v20h-2zM1203 868h2v42h-2zM1205 896h2v70h-2zM1221 886h2v20h-2zM1229 852h2v30h-2zM1231 870h2v24h-2zM1235 876h2v22h-2zM1241 820h2v30h-2zM1245 840h2v94h-2zM1247 892h2v54h-2zM1257 902h2v100h-2zM1271 886h2v44h-2zM1287 884h2v38h-2zM1303 858h2v18h-2zM1307 850h2v32h-2zM1309 878h2v14h-2zM1315 880h2v30h-2zM1319 892h2v30h-2zM1329 894h2v30h-2zM1339 896h2v26h-2zM1349 888h2v28h-2zM1351 900h2v20h-2zM1355 912h2v32h-2zM1365 890h2v30h-2zM1367 912h2v20h-2zM1371 916h2v16h-2zM1387 898h2v14h-2zM1393 878h2v44h-2zM1397 902h2v34h-2zM1401 924h2v32h-2zM1407 908h2v20h-2zM1417 902h2v20h-2zM1427 796h2v60h-2zM1429 846h2v34h-2zM1449 634h2v54h-2zM1453 666h2v16h-2zM1465 616h2v46h-2zM1469 646h2v28h-2zM1475 630h2v18h-2zM1481 618h2v36h-2zM1485 644h2v14h-2zM1491 642h2v16h-2zM1501 582h2v62h-2zM1507 632h2v22h-2zM1527 508h2v26h-2zM1533 442h2v72h-2zM1547 216h2v66h-2zM1553 250h2v92h-2zM1559 276h2v30h-2zM1565 250h2v42h-2zM1573 270h2v18h-2zM1575 264h2v48h-2zM1583 274h2v24h-2zM1585 290h2v180h-2zM1589 438h2v384h-2zM1591 742h2v204h-2zM1599 622h2v94h-2zM1605 546h2v110h-2zM1609 640h2v54h-2zM1621 362h2v100h-2zM1625 390h2v204h-2zM1627 494h2v72h-2zM1637 466h2v50h-2zM1641 470h2v50h-2zM1653 406h2v54h-2zM1657 454h2v34h-2zM1661 462h2v112h-2zM1673 454h2v40h-2zM1677 476h2v36h-2zM1693 460h2v48h-2zM1699 466h2v100h-2zM1711 460h2v30h-2zM1719 374h2v148h-2zM1721 422h2v52h-2zM1725 440h2v28h-2zM1741 260h2v104h-2zM1747 286h2v72h-2zM1757 300h2v42h-2zM1761 310h2v24h-2zM1763 326h2v86h-2zM1771 352h2v24h-2zM1773 342h2v42h-2zM1781 326h2v36h-2zM1787 340h2v28h-2zM1789 356h2v26h-2zM1793 372h2v22h-2zM1807 348h2v14h-2zM1809 334h2v26h-2zM1813 346h2v30h-2zM1819 346h2v18h-2zM1825 352h2v38h-2zM1829 378h2v64h-2zM1833 402h2v40h-2zM1835 416h2v14h-2zM1841 390h2v24h-2zM1849 402h2v24h-2zM1855 358h2v68h-2zM1861 386h2v120h-2zM1867 410h2v58h-2zM1871 452h2v42h-2zM1877 408h2v44h-2zM1883 404h2v36h-2zM1891 412h2v36h-2zM1903 374h2v28h-2zM1909 384h2v16h-2zM1913 390h2v8h-2zM1919 368h2v22h-2zM1923 378h2v30h-2zM1929 376h2v26h-2zM1933 396h2v32h-2zM1939 402h2v8h-2zM1949 380h2v12h-2zM1953 376h2v14h-2zM1959 374h2v14h-2zM1965 380h2v8h-2zM1969 380h2v16h-2zM1975 384h2v18h-2zM1981 386h2v22h-2zM1987 398h2v16h-2zM1995 398h2v18h-2zM2001 408h2v8h-2zM2007 392h2v10h-2zM2011 398h2v8h-2zM2021 378h2v14h-2zM2023 382h2v12h-2zM2027 390h2v8h-2zM2031 390h2v34h-2zM2033 402h2v14h-2zM2039 406h2v10h-2zM2043 416h2v54h-2zM2049 430h2v14h-2zM2057 400h2v18h-2zM2063 410h2v16h-2zM2073 418h2v14h-2zM2075 420h2v6h-2zM2079 426h2v16h-2zM2085 418h2v10h-2zM2089 424h2v24h-2zM2095 438h2v18h-2zM2105 430h2v12h-2zM2125 406h2v10h-2zM2133 402h2v8h-2zM2141 390h2v26h-2zM2143 406h2v14h-2zM2153 406h2v26h-2zM2157 414h2v12h-2zM2159 424h2v12h-2zM2177 402h2v10h-2zM2185 234h2v102h-2zM2189 258h2v62h-2zM2199 268h2v46h-2zM2205 314h2v22h-2zM2209 326h2v98h-2zM2215 386h2v50h-2zM2225 354h2v32h-2zM2231 368h2v16h-2zM2237 372h2v60h-2zM2247 398h2v32h-2zM2251 412h2v230h-2zM2257 570h2v30h-2zM2263 584h2v12h-2zM2267 584h2v22h-2zM2273 572h2v28h-2zM2277 594h2v80h-2zM2289 564h2v18h-2zM2293 574h2v20h-2zM2297 578h2v16h-2zM2303 576h2v32h-2zM2313 584h2v22h-2zM2315 588h2v16h-2zM2329 574h2v48h-2zM2335 602h2v26h-2zM2339 610h2v106h-2zM2345 668h2v68h-2zM2351 630h2v64h-2zM2357 662h2v30h-2zM2361 682h2v34h-2zM2365 688h2v104h-2zM2367 730h2v58h-2zM2375 758h2v70h-2zM2383 728h2v28h-2zM2393 704h2v18h-2zM2401 700h2v34h-2zM2403 718h2v18h-2zM2407 714h2v48h-2z" fill="#e8301f"/>
<line x1="42" y1="746" x2="2437" y2="746" stroke="#149a7b" stroke-width="2" stroke-dasharray="12 4"/>
</svg>
<div class="yaxis"></div><div class="xaxis"></div><div class="pt" style="top:739px"></div>
<div class="pl" style="top:88.8px">30500.00</div><div class="pt" style="top:101px"></div><div class="pl" style="top:212.8px">30000.00</div><div class="pt" style="top:225px"></div><div class="pl" style="top:336.8px">29500.00</div><div class="pt" style="top:349px"></div><div class="pl" style="top:464.8px">29000.00</div><div class="pt" style="top:477px"></div><div class="pl" style="top:594.8px">28500.00</div><div class="pt" style="top:607px"></div><div class="pl" style="top:860.8px">27500.00</div><div class="pt" style="top:873px"></div><div class="pl" style="top:996.8px">27000.00</div><div class="pt" style="top:1009px"></div>
<div class="tt" style="left:47px"></div><div class="tl" style="left:-52px">Mon 17</div><div class="tt" style="left:203px"></div><div class="tl" style="left:104px">Tue 18</div><div class="tt" style="left:359px"></div><div class="tl" style="left:260px">Wed 19</div><div class="tt" style="left:515px"></div><div class="tl" style="left:416px">Thu 20</div><div class="tt" style="left:669px"></div><div class="tl" style="left:570px">Fri 21</div><div class="tt" style="left:825px"></div><div class="tl" style="left:726px">Sat 22</div><div class="tt" style="left:981px"></div><div class="tl" style="left:882px">23 Apr</div><div class="tt" style="left:1137px"></div><div class="tl" style="left:1038px">Mon 24</div><div class="tt" style="left:1293px"></div><div class="tl" style="left:1194px">Tue 25</div><div class="tt" style="left:1449px"></div><div class="tl" style="left:1350px">Wed 26</div><div class="tt" style="left:1605px"></div><div class="tl" style="left:1506px">Thu 27</div><div class="tt" style="left:1761px"></div><div class="tl" style="left:1662px">Fri 28</div><div class="tt" style="left:1915px"></div><div class="tl" style="left:1816px">Sat 29</div><div class="tt" style="left:2071px"></div><div class="tl" style="left:1972px">30 Apr</div><div class="tt" style="left:2227px"></div><div class="tl" style="left:2128px">May</div><div class="tt" style="left:2383px"></div><div class="tl" style="left:2284px">Tue 2</div>
<svg style="position:absolute;left:0;top:0" width="2570" height="1192" viewBox="0 0 2570 1192">
<path d="M90.05 41.8 L106 57.6 L122.05 41.8" fill="none" stroke="#40434f" stroke-width="5.7" stroke-linecap="round" stroke-linejoin="round"/>
</svg>
<div class="logo"></div>
<svg style="position:absolute;left:2408px;top:10px" width="60" height="60" viewBox="0 0 60 60">
<path d="M8.8 41.4 L22.5 27.9 L32.7 38.3 L51.2 20.5" fill="none" stroke="#fff" stroke-width="2.5" stroke-linecap="butt" stroke-linejoin="miter"/>
<path d="M42.3 20.2 L51.5 20.2 L51.5 28.8" fill="none" stroke="#fff" stroke-width="2.4" stroke-linecap="butt" stroke-linejoin="miter"/>
</svg>
<div class="brand">Charts p</div>
<div class="plab"></div><div class="plabt">27972.47</div>
<div class="tlab"></div>
<svg style="position:absolute;left:0;top:0" width="2570" height="1192" viewBox="0 0 2570 1192"><path d="M2436.7 746 L2451.6 731.6 L2451.6 760.4 Z" fill="#139c7c"/><path d="M2413.9 1127.2 L2399.5 1141.9 L2428.3 1141.9 Z" fill="#139c7c"/></svg>
<div class="tlabt">21:09</div>
<span class="tw" style="left:220.9px;letter-spacing:-0.85px">BINANCE:BTCUSDT</span><span class="tw" style="left:465.7px;letter-spacing:2.05px">(30m)</span><span class="tw" style="left:550.1px;letter-spacing:0px">-</span><span class="tw" style="left:567.6px;letter-spacing:-0.45px">Tue</span><span class="tw" style="left:619.9px;letter-spacing:0.3px">02</span><span class="tw" style="left:657.5px;letter-spacing:-1.1px">May</span><span class="tw" style="left:715.7px;letter-spacing:0.4px">23</span><span class="tw" style="left:755.6px;letter-spacing:1.375px">04:30</span>
</body></html>
